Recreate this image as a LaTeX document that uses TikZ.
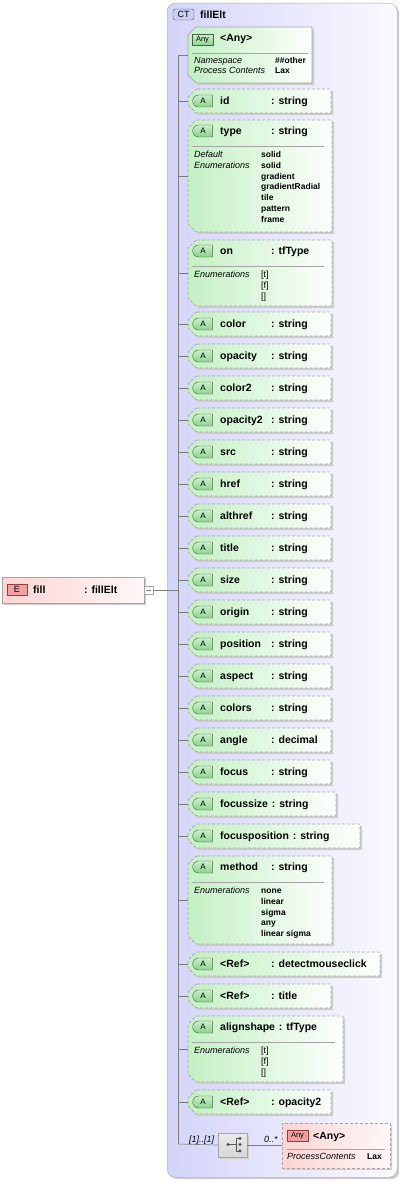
\documentclass[tikz,border=0pt]{standalone}
\usepackage{fontspec}
\setmainfont{Liberation Sans}
\usetikzlibrary{positioning,shapes.misc,shadows}

\definecolor{ctleft}{RGB}{212,212,250}
\definecolor{ctright}{RGB}{250,250,255}
\definecolor{ctborder}{RGB}{170,170,170}
\definecolor{attrleft}{RGB}{196,240,196}
\definecolor{attrright}{RGB}{252,255,252}
\definecolor{boxborder}{RGB}{165,165,165}
\definecolor{tagA}{RGB}{140,210,140}
\definecolor{tagAtop}{RGB}{200,240,200}
\definecolor{tagAborder}{RGB}{70,100,70}
\definecolor{elleft}{RGB}{255,212,212}
\definecolor{elright}{RGB}{255,247,247}
\definecolor{tagE}{RGB}{240,160,160}
\definecolor{tagEborder}{RGB}{150,60,60}
\definecolor{tagCT}{RGB}{205,205,245}
\definecolor{tagCTborder}{RGB}{80,80,140}
\definecolor{linegray}{RGB}{125,125,125}
\definecolor{shadowgray}{RGB}{205,205,205}
\definecolor{compgray}{RGB}{215,215,215}

\newcommand{\titlefont}{\fontsize{10.5}{12}\selectfont\bfseries}
\newcommand{\smallfont}{\fontsize{9}{10}\selectfont}
% Rahmen mit abgeschraegter linker Seite: oben, unten, rechts, Stil
\newcommand{\attrframe}[4]{%
  \path[boxshadow] (196,#1) -- (#3,#1) -- (#3,#2) -- (196,#2) -- (188,#2-8) -- (188,#1+8) -- cycle;
  \path[#4] (196,#1) -- (#3,#1) -- (#3,#2) -- (196,#2) -- (188,#2-8) -- (188,#1+8) -- cycle;}

\begin{document}
\begin{tikzpicture}[x=1pt, y=-1pt,
  boxshadow/.style={fill=shadowgray, shift={(2,2)}},
  attrbox/.style={draw=boxborder, dash pattern=on 3pt off 2pt, line width=0.7pt,
                  left color=attrleft, right color=attrright, rounded corners=1pt},
  anybox/.style={draw=boxborder, line width=0.7pt,
                 left color=attrleft, right color=attrright, rounded corners=1pt},
  nshadow/.style={drop shadow={shadow xshift=2pt, shadow yshift=-2pt, fill=shadowgray, opacity=1}},
  atag/.style={rounded rectangle, rounded rectangle right arc=none, draw=tagAborder,
               top color=tagAtop, bottom color=tagA, minimum width=20pt, minimum height=12pt,
               inner sep=0pt, font=\fontsize{8}{9}\selectfont},
  anytag/.style={draw=tagAborder, top color=tagAtop, bottom color=tagA, minimum width=21pt,
                 minimum height=11pt, inner sep=0pt, font=\fontsize{7.5}{8}\selectfont},
  aname/.style={anchor=base west, inner sep=0pt, font=\titlefont},
  lbl/.style={anchor=base west, inner sep=0pt, font=\smallfont\itshape},
  val/.style={anchor=base west, inner sep=0pt, font=\fontsize{8.5}{10}\selectfont\bfseries},
  sepline/.style={draw=boxborder, line width=0.6pt},
  branch/.style={draw=linegray, line width=0.6pt}]

\useasboundingbox (0,0) rectangle (403,1182);

% komplexer Typ
\node[draw=ctborder, rounded corners=8pt, left color=ctleft, right color=ctright, nshadow,
      anchor=north west, inner sep=0pt, minimum width=230pt, minimum height=1174pt] (ct) at (167,3) {};
\node[draw=tagCTborder, fill=tagCT, rounded corners=2.5pt, minimum width=21pt, minimum height=11pt,
      inner sep=0pt, font=\smallfont] (t-ct) at (183.5,14.5) {CT};
\node[aname] (n-ct) at (200,18.3) {fillElt};

% Element links
\node[draw=boxborder, left color=elleft, right color=elright, nshadow, anchor=north west,
      inner sep=0pt, minimum width=142pt, minimum height=26pt] (el) at (2,577) {};
\node[draw=tagEborder, fill=tagE, minimum width=20pt, minimum height=11pt, inner sep=0pt,
      font=\smallfont] (t-el) at (17,589.5) {E};
\node[aname] (n-el) at (33,593.8) {fill};
\node[aname] (y-el) at (84,593.8) {: fillElt};
\node[draw=boxborder, fill=white, minimum width=9pt, minimum height=8pt, inner sep=0pt] (minus) at (148.5,590) {};
\draw[linegray] (146.3,590) -- (150.7,590);

% Sequenzlinie
\coordinate (spine) at (178,55);
\coordinate (spineend) at (178,1144);
\draw[branch] (spine) -- (spineend);
\draw[branch] (minus.east) -- (spine |- minus.east);

% Wildcard oben
\attrframe{27}{83}{312}{anybox}
\coordinate (a-any) at (188,55);
\node[anytag] (t-any) at (202.5,40) {Any};
\node[aname] (n-any) at (220,41.8) {<Any>};
\draw[sepline] (192,53) -- (308,53);
\node[lbl] (l-any1) at (194,64) {Namespace};
\node[lbl] (l-any2) at (194,74) {Process Contents};
\node[val] (v-any1) at (275,64) {\#\#other};
\node[val] (v-any2) at (275,74) {Lax};
\draw[branch] (spine) -- (a-any);

% einfache Attribute
\foreach \k/\lab/\typ/\y in {id/id/string/101, color/color/string/324, opacity/opacity/string/356,
    color2/color2/string/388, opacity2/opacity2/string/420, src/src/string/452, href/href/string/484,
    althref/althref/string/516, title/title/string/548, size/size/string/580, origin/origin/string/612,
    position/position/string/644, aspect/aspect/string/676, colors/colors/string/708,
    angle/angle/decimal/740, focus/focus/string/772, detect/<Ref>/detectmouseclick/964,
    reftitle/<Ref>/title/996, refopacity/<Ref>/opacity2/1102}{
  \ifnum\y=964 \def\rx{380}\else\def\rx{331}\fi
  \attrframe{\y-12}{\y+12}{\rx}{attrbox}
  \coordinate (a-\k) at (188,\y);
  \node[atag] (t-\k) at (203,\y) {A};
  \node[aname] (n-\k) at (220,\y+3.8) {\lab};
  \node[aname] (y-\k) at (271,\y+3.8) {: \typ};
  \draw[branch] (spine |- a-\k) -- (a-\k);
}

% lange Namen
\attrframe{792}{816}{336}{attrbox}
\coordinate (a-fsize) at (188,804);
\node[atag] (t-fsize) at (203,804) {A};
\node[aname] (n-fsize) at (220,807.8) {focussize};
\node[aname, base right=3.5pt of n-fsize] (y-fsize) {: string};
\draw[branch] (spine |- a-fsize) -- (a-fsize);

\attrframe{824}{848}{360}{attrbox}
\coordinate (a-fpos) at (188,836);
\node[atag] (t-fpos) at (203,836) {A};
\node[aname] (n-fpos) at (220,839.8) {focusposition};
\node[aname, base right=3.5pt of n-fpos] (y-fpos) {: string};
\draw[branch] (spine |- a-fpos) -- (a-fpos);

% type
\attrframe{120}{232}{332}{attrbox}
\coordinate (a-type) at (188,176);
\node[atag] (t-type) at (203,131) {A};
\node[aname] (n-type) at (220,134.8) {type};
\node[aname] (y-type) at (271,134.8) {: string};
\draw[sepline] (192,146.5) -- (324,146.5);
\node[lbl] (l-type1) at (194,157.5) {Default};
\node[lbl] (l-type2) at (194,168.3) {Enumerations};
\foreach \v [count=\i from 0] in {solid,solid,gradient,gradientRadial,tile,pattern,frame}
  \node[val] (v-type\i) at (261,157.5+10.8*\i) {\v};
\draw[branch] (spine |- a-type) -- (a-type);

% on
\attrframe{240}{306}{332}{attrbox}
\coordinate (a-on) at (188,273);
\node[atag] (t-on) at (203,251) {A};
\node[aname] (n-on) at (220,254.8) {on};
\node[aname] (y-on) at (271,254.8) {: tfType};
\draw[sepline] (192,266.5) -- (324,266.5);
\node[lbl] (l-on) at (194,277.5) {Enumerations};
\foreach \v [count=\i from 0] in {{[t]},{[f]},{[]}}
  \node[val, font=\smallfont] (v-on\i) at (261,277.5+10.8*\i) {\v};
\draw[branch] (spine |- a-on) -- (a-on);

% method
\attrframe{856}{944}{332}{attrbox}
\coordinate (a-method) at (188,900);
\node[atag] (t-method) at (203,867) {A};
\node[aname] (n-method) at (220,870.8) {method};
\node[aname] (y-method) at (271,870.8) {: string};
\draw[sepline] (192,882.5) -- (324,882.5);
\node[lbl] (l-method) at (194,893.5) {Enumerations};
\foreach \v [count=\i from 0] in {none,linear,sigma,any,linear sigma}
  \node[val] (v-method\i) at (261,893.5+10.8*\i) {\v};
\draw[branch] (spine |- a-method) -- (a-method);

% alignshape
\attrframe{1016}{1082}{343}{attrbox}
\coordinate (a-align) at (188,1049);
\node[atag] (t-align) at (203,1027) {A};
\node[aname] (n-align) at (220,1030.8) {alignshape};
\node[aname, base right=3.5pt of n-align] (y-align) {: tfType};
\draw[sepline] (192,1042.5) -- (335,1042.5);
\node[lbl] (l-align) at (194,1053.5) {Enumerations};
\foreach \v [count=\i from 0] in {{[t]},{[f]},{[]}}
  \node[val, font=\smallfont] (v-align\i) at (261,1053.5+10.8*\i) {\v};
\draw[branch] (spine |- a-align) -- (a-align);

% Kompositor + Wildcard unten
\node[draw=boxborder, top color=white!92!black, bottom color=compgray, nshadow, inner sep=0pt,
      minimum width=29pt, minimum height=24pt] (seq) at (232.5,1145) {};
\draw[linegray!70!black, line width=0.7pt] (228,1144.5) -- (236,1144.5) (236,1138.5) -- (236,1151)
  (236,1138.5) -- (240,1138.5) (236,1151) -- (240,1151);
\foreach \yy in {1138.5,1144.5,1151} \fill[linegray!60!black] (240,\yy) circle (1.6pt);
\fill[linegray!60!black] (228,1144.5) circle (1.6pt);
\node[draw=boxborder, dash pattern=on 3pt off 2pt, line width=0.7pt, left color=elleft,
      right color=elright, nshadow, anchor=north west, inner sep=0pt,
      minimum width=108pt, minimum height=45pt] (anyB) at (282,1123) {};
\node[draw=tagEborder, fill=tagE, minimum width=21pt, minimum height=11pt, inner sep=0pt,
      font=\fontsize{7.5}{8}\selectfont] (t-anyB) at (297.5,1136) {Any};
\node[aname] (n-anyB) at (313,1139.3) {<Any>};
\draw[sepline] (287,1149) -- (385,1149);
\node[lbl] (l-anyB) at (287,1159.5) {ProcessContents};
\node[val] (v-anyB) at (367,1159.5) {Lax};
\draw[branch] (spineend) -- (seq.west);
\draw[branch] (seq.east) -- (anyB.west |- seq.east);
\node[lbl, anchor=base west] (m-seq) at (189,1142) {[1]..[1]};
\node[lbl, anchor=base west] (m-any) at (264,1142) {0..*};
\end{tikzpicture}
\end{document}
